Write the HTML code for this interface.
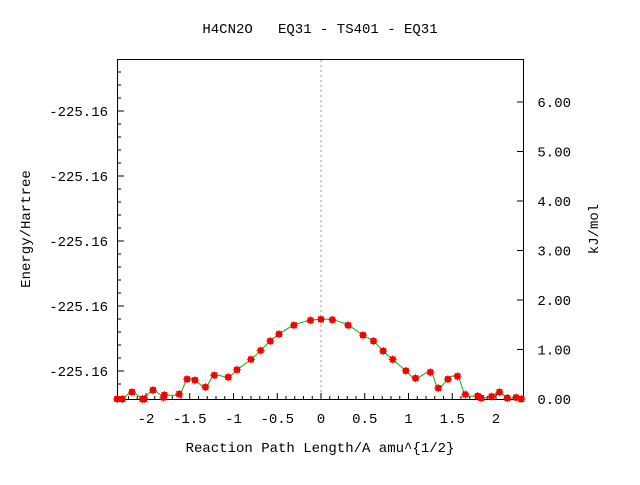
<!DOCTYPE html>
<html><head><meta charset="utf-8"><style>
body{margin:0;background:#fff;width:640px;height:480px;overflow:hidden}
text{font-family:"Liberation Mono","DejaVu Sans Mono",monospace;font-size:14px;fill:#000}
</style></head><body>
<svg id="c" width="640" height="480">
<text x="320" y="33" text-anchor="middle" xml:space="preserve">H4CN2O   EQ31 - TS401 - EQ31</text>
<rect x="117.5" y="59.5" width="406" height="340" fill="none" stroke="#000"/>
<line x1="321" y1="60" x2="321" y2="399" stroke="#999" stroke-dasharray="2,3"/>
<g id="axes"></g>
<path id="curve" fill="none" stroke="#00bb00" stroke-width="1"/>
<g id="pts"></g>
<text x="320" y="452" text-anchor="middle">Reaction Path Length/A amu^{1/2}</text>
<text transform="translate(30,229) rotate(-90)" text-anchor="middle">Energy/Hartree</text>
<text transform="translate(598,229) rotate(-90)" text-anchor="middle">kJ/mol</text>
</svg>
<script>
const xs=[-2.33,-2.27,-2.16,-2.04,-2.02,-1.92,-1.80,-1.79,-1.62,-1.53,-1.44,-1.32,-1.22,-1.06,-0.96,-0.80,-0.69,-0.58,-0.48,-0.31,-0.12,0.00,0.13,0.31,0.48,0.60,0.71,0.82,0.97,1.08,1.25,1.34,1.45,1.56,1.65,1.79,1.83,1.95,2.04,2.13,2.23,2.29];
const ys=[0,0,0.14,0,0,0.18,0.03,0.08,0.10,0.40,0.38,0.24,0.48,0.44,0.59,0.80,0.98,1.17,1.31,1.49,1.59,1.61,1.60,1.49,1.29,1.17,0.97,0.80,0.57,0.42,0.54,0.22,0.40,0.46,0.09,0.06,0.02,0.05,0.14,0.02,0.03,0];
const xTicks=[-2,-1.5,-1,-0.5,0,0.5,1,1.5,2];
const xTickLabels=["-2","-1.5","-1","-0.5","0","0.5","1","1.5","2"];
const rTicks=[0,1,2,3,4,5,6];
const rTickLabels=["0.00","1.00","2.00","3.00","4.00","5.00","6.00"];
const lTickY=[111,176,241,306,371];
const lTickLabels=["-225.16","-225.16","-225.16","-225.16","-225.16"];
const X=v=>321+v*87.5, Y=v=>399-v*49.5;
const NS="http://www.w3.org/2000/svg";
const ax=document.getElementById('axes');
function mk(t,a,p){const e=document.createElementNS(NS,t);for(const k in a)e.setAttribute(k,a[k]);(p||ax).appendChild(e);return e;}
// bottom minor ticks
for(let i=-23;i<=23;i++){const x=X(i/10);if(x<118||x>523)continue;
 const l=mk('line',{x1:x,x2:x,y1:399,y2:(i%5==0)?393:396,stroke:'#000'});
 }
xTicks.forEach((v,i)=>{const t=mk('text',{x:X(v),y:423,'text-anchor':'middle'});t.textContent=xTickLabels[i];
 });
rTicks.forEach((v,i)=>{const y=Y(v);
 const l=mk('line',{x1:517,x2:523,y1:y,y2:y,stroke:'#000'});
 
 const t=mk('text',{x:571,y:y+5,'text-anchor':'end'});t.textContent=rTickLabels[i];
 });
for(let y=59+13;y<399;y+=13){
 const major=lTickY.some(v=>Math.abs(v-y)<3);
 const l=mk('line',{x1:117,x2:major?124:121,y1:y,y2:y,stroke:'#000'});
 }
lTickY.forEach((y,i)=>{const t=mk('text',{x:108,y:y+5,'text-anchor':'end'});t.textContent=lTickLabels[i];
 });
// curve (Catmull-Rom)
const P=xs.map((v,i)=>[X(v),Y(ys[i])]);
let d='M'+P[0][0]+','+P[0][1];
for(let i=0;i<P.length-1;i++){const p0=P[Math.max(i-1,0)],p1=P[i],p2=P[i+1],p3=P[Math.min(i+2,P.length-1)];
 d+=` C${p1[0]+(p2[0]-p0[0])/6},${p1[1]+(p2[1]-p0[1])/6} ${p2[0]-(p3[0]-p1[0])/6},${p2[1]-(p3[1]-p1[1])/6} ${p2[0]},${p2[1]}`;}
document.getElementById('curve').setAttribute('d',d);
const g=document.getElementById('pts');
P.forEach(p=>{const r=mk('rect',{x:p[0]-3,y:p[1]-3,width:6,height:6,fill:'#ff0000'},g);
 
 mk('path',{d:`M${p[0]-4},${p[1]}h8M${p[0]},${p[1]-4}v8`,stroke:'#ee0000','stroke-width':1},g);});
</script>
</body></html>
